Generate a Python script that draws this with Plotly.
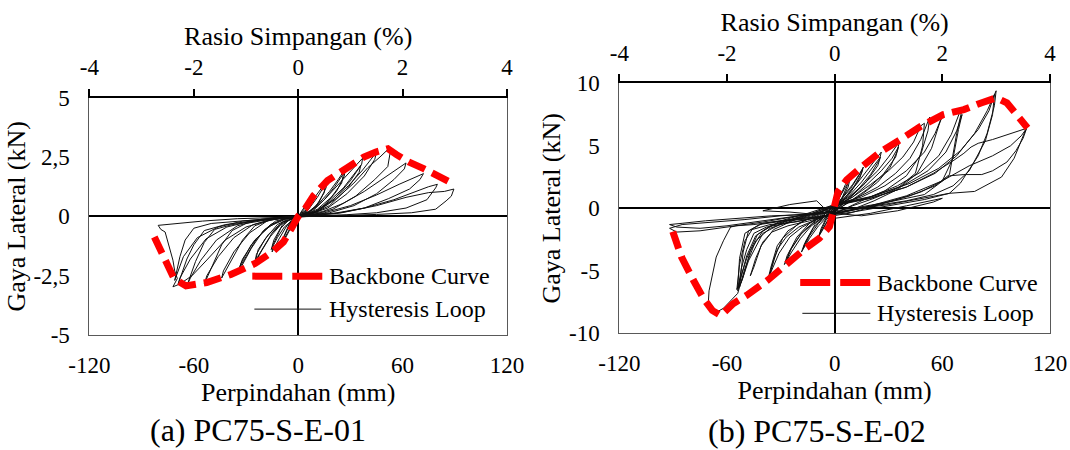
import plotly.graph_objects as go

# ---------------- data ----------------
# Specimen (a) PC75-S-E-01 : backbone curve (displacement mm, lateral force kN)
bb1_x = [-82.7, -74.4, -71.4, -64.5, -52.6, -38.7, -24.8, -14.9, -8.5, -4, 0, 4, 8.9, 16.9,
         26.8, 37.7, 44.6, 51.6, 56.5, 63.5, 72.4, 80.3, 87.3]
bb1_y = [-0.87, -2.2, -2.62, -2.93, -2.79, -2.45, -1.99, -1.5, -1.08, -0.52, 0, 0.32, 0.88, 1.51,
         2.0, 2.5, 2.71, 2.85, 2.6, 2.29, 2.0, 1.73, 1.44]

# Specimen (a) hysteresis loop (one continuous record, cycle by cycle)
hyst1_x = [
    0, 3, 6, 8, 7.5, 5, 2, -1, -3, -6, -8.5, -8, -5, -2,
    0, 4, 7, 8.5, 8, 5, 1, -2, -5, -8.5, -8, -5, -1,
    0, 5, 10, 14, 16.5, 16, 12, 7, 2, -3, -7, -11, -15, -14.5, -10, -5,
    0, 6, 11, 15.5, 15, 10, 4, -2, -8, -12, -15.5, -14, -9, -3,
    0, 6, 12, 18, 23, 27, 26.5, 22, 15, 8, 2, -4, -10, -16, -21, -25, -24, -19, -12, -5,
    0, 8, 15, 21, 26, 25, 19, 11, 4, -3, -9, -15, -20, -24.5, -23, -17, -9, -2,
    0, 8, 15, 22, 30, 37, 36.5, 30, 21, 12, 4, -5, -13, -20, -27, -34, -33, -27, -19, -10, -3,
    0, 10, 18, 26, 33, 36, 35, 28, 18, 8, 0, -8, -16, -24, -30, -34, -32, -25, -16, -6,
    0, 10, 20, 29, 37, 42, 45, 44, 38, 28, 17, 6, -6, -16, -25, -32, -38, -44, -43, -37, -28, -18, -8,
    0, 12, 22, 32, 40, 47, 52, 53, 51.5, 44, 33, 20, 8, -5, -18, -30, -38, -44, -49, -54, -52.5, -46, -37, -26, -14, -4,
    0, 14, 26, 38, 50, 58, 62, 61, 55, 45, 32, 18, 5, -10, -25, -38, -48, -54, -59, -64, -62, -56, -47, -35, -21, -8,
    0, 15, 30, 45, 58, 67, 72, 70, 64, 52, 38, 22, 8, -8, -25, -42, -54, -60, -64, -69, -68, -62, -53, -41, -27, -12,
    0, 20, 38, 55, 68, 75, 80, 79, 74, 62, 45, 28, 10, -10, -30, -50, -60, -65, -68, -71, -70, -66, -58, -46, -32, -16,
    0, 25, 45, 62, 75, 84, 89.5, 88, 85, 79, 65, 45, 25, 5, -15, -35, -55, -68, -76, -80.5, -79, -76.5, -72, -71,
    -69.5, -72, -68, -61, -52, -42, -30, -16, -4, 0,
]
hyst1_y = [
    0, 0.35, 0.7, 0.88, 0.7, 0.3, 0.05, -0.02, -0.3, -0.75, -1.08, -0.85, -0.35, -0.08,
    0, 0.35, 0.65, 0.8, 0.6, 0.2, 0.02, -0.15, -0.55, -1.0, -0.8, -0.3, -0.03,
    0.02, 0.3, 0.85, 1.25, 1.5, 1.2, 0.6, 0.2, 0.03, -0.08, -0.45, -0.95, -1.5, -1.2, -0.5, -0.12,
    0, 0.3, 0.8, 1.35, 1.0, 0.4, 0.08, -0.1, -0.45, -0.9, -1.4, -1.0, -0.35, -0.06,
    0.02, 0.2, 0.55, 1.05, 1.55, 2.0, 1.7, 1.05, 0.45, 0.12, 0.02, -0.1, -0.35, -0.85, -1.45, -1.98, -1.6, -0.95, -0.35, -0.08,
    0.01, 0.2, 0.7, 1.25, 1.8, 1.4, 0.8, 0.3, 0.05, -0.1, -0.25, -0.7, -1.3, -1.85, -1.4, -0.75, -0.25, -0.04,
    0.03, 0.25, 0.7, 1.25, 1.9, 2.45, 2.2, 1.5, 0.75, 0.25, 0.05, -0.05, -0.2, -0.6, -1.35, -2.3, -2.0, -1.2, -0.55, -0.15, -0.03,
    0, 0.2, 0.65, 1.2, 1.85, 2.15, 1.85, 1.15, 0.45, 0.1, -0.02, -0.12, -0.35, -0.95, -1.7, -2.2, -1.8, -1.0, -0.4, -0.08,
    0.02, 0.2, 0.7, 1.3, 1.95, 2.45, 2.7, 2.4, 1.7, 0.95, 0.35, 0.07, -0.05, -0.15, -0.4, -1.0, -1.8, -2.6, -2.3, -1.5, -0.7, -0.2, -0.05,
    0.03, 0.25, 0.75, 1.4, 2.05, 2.5, 2.85, 2.75, 2.1, 1.55, 0.85, 0.3, 0.06, -0.05, -0.15, -0.3, -0.6, -1.2, -2.0, -2.85, -2.5, -1.7, -0.9, -0.35, -0.1, -0.02,
    0.03, 0.2, 0.55, 1.05, 1.65, 2.05, 2.25, 2.0, 1.55, 0.95, 0.45, 0.15, 0.03, -0.08, -0.2, -0.35, -0.55, -1.1, -1.9, -2.93, -2.6, -1.85, -1.0, -0.4, -0.12, -0.03,
    0.03, 0.15, 0.45, 0.9, 1.35, 1.65, 1.8, 1.55, 1.15, 0.75, 0.35, 0.12, 0.03, -0.06, -0.18, -0.35, -0.6, -1.2, -1.8, -2.85, -2.6, -1.8, -0.95, -0.45, -0.2, -0.07,
    0.02, 0.12, 0.35, 0.7, 1.05, 1.25, 1.35, 1.2, 0.7, 0.35, 0.15, 0.07, 0.02, -0.07, -0.18, -0.3, -0.5, -1.0, -1.7, -2.7, -2.5, -1.7, -0.9, -0.45, -0.2, -0.08,
    0.02, 0.15, 0.45, 0.8, 1.0, 1.05, 1.15, 0.85, 0.65, 0.3, 0.15, 0.08, 0.04, 0.0, -0.05, -0.1, -0.2, -0.28, -0.33, -0.38, -0.55, -0.66, -1.85, -2.3,
    -2.62, -2.97, -2.85, -2.5, -1.8, -1.0, -0.45, -0.15, -0.03, 0.02,
]

# Specimen (b) PC75-S-E-02 : backbone curve
bb2_x = [-90.2, -85.4, -78.7, -73, -68.2, -63.4, -56.6, -49, -37.4, -26.9, -16.3, -8.6, -2.9, 1.9,
         6.7, 15.4, 25.9, 36.5, 48, 60.5, 72, 81.6, 90.2, 96, 101.8, 107.5]
bb2_y = [-1.87, -3.88, -5.76, -7.23, -8.17, -8.57, -7.63, -6.96, -5.76, -4.42, -3.21, -2.41, -1.47, 1.34,
         2.28, 3.35, 4.55, 5.49, 6.56, 7.5, 7.9, 8.43, 8.84, 8.43, 7.36, 6.43]

# Specimen (b) hysteresis loop
hyst2_x = [
    0, 3, 6, 8, 7, 4, 0, -3, -6, -9, -8, -5, -1,
    0, 4, 7, 8.5, 7.5, 4, 0, -4, -8.5, -7.5, -4,
    0, 5, 10, 14, 16, 15, 11, 6, 1, -4, -9, -14, -18.5, -17, -12, -6, -1,
    0, 4, 9, 13, 15.5, 14, 9, 3, -3, -9, -14, -17.5, -16, -11, -5,
    0, 6, 12, 18, 22, 26, 25, 20, 13, 6, 0, -6, -13, -19, -24, -28, -26.5, -21, -14, -6,
    0, 8, 15, 21, 25.5, 24, 17, 9, 2, -5, -12, -19, -24, -27, -25, -18, -10, -2,
    0, 8, 16, 24, 30, 36, 35, 31, 24, 15, 6, -2, -10, -18, -25, -31, -37, -35.5, -32, -26, -17, -8,
    0, 10, 18, 26, 32, 35.5, 34, 27, 18, 8, -2, -12, -20, -27, -32, -36, -34, -29, -20, -10,
    0, 10, 20, 30, 38, 44, 48, 50, 49, 45, 35, 22, 10, -2, -14, -26, -35, -40, -44, -47, -45, -41, -34, -22, -10,
    0, 12, 24, 34, 42, 48, 53, 52, 48, 40, 28, 15, 2, -12, -26, -38, -45, -49, -52, -54, -52, -49, -44, -36, -22, -8,
    0, 15, 28, 40, 50, 56, 60, 58, 54, 46, 35, 22, 8, -8, -22, -36, -46, -50, -53, -54.5, -53, -49, -43, -34, -20, -6,
    0, 18, 35, 48, 58, 65, 70, 71, 68, 64, 56, 42, 25, 8, -10, -28, -42, -50, -53, -54, -52, -48, -40, -28, -14,
    0, 20, 38, 52, 62, 68, 71, 69, 66, 60, 48, 32, 15, -5, -25, -40, -48, -51, -53, -51, -47, -40, -30, -15,
    0, 20, 40, 56, 68, 78, 85, 90, 89, 85, 80, 70, 64, 50, 30, 10, -10, -30, -45, -55, -58, -62, -66, -70, -70.5,
    -67, -62, -58, -54, -50, -44, -36, -24, -10,
    0, 22, 42, 58, 70, 80, 86, 89, 88, 84, 75, 66, 55, 40, 22, 5, -15, -35, -55, -72, -85, -92, -88, -75, -60,
    -45, -30, -15,
    0, 20, 40, 55, 66, 72, 76, 80, 88, 97, 103, 107, 105, 101, 96, 88, 82, 72, 64, 50, 30, 10, -10, -30, -50,
    -70, -85, -92, -88, -75, -60, -40, -20,
    0, 30, 55, 64, 78, 93, 100, 106.5, 104, 98, 88, 75, 60, 40, 20, 0,
    15, 35, 55, 60, 40, 20, 0, -10, -25, -40, -25, -10, 0,
]
hyst2_y = [
    0, 1.0, 1.9, 2.4, 1.8, 0.8, -0.2, -0.8, -1.6, -2.3, -1.9, -1.0, -0.3,
    0.2, 1.2, 2.0, 2.3, 1.7, 0.7, -0.3, -1.0, -2.1, -1.6, -0.6,
    0.1, 1.0, 1.9, 2.8, 3.3, 2.8, 1.8, 0.9, 0.0, -0.7, -1.4, -2.4, -3.5, -2.9, -1.6, -0.7, -0.1,
    0.1, 0.8, 1.6, 2.5, 3.1, 2.4, 1.3, 0.3, -0.5, -1.2, -2.2, -3.2, -2.6, -1.3, -0.4,
    0.1, 0.9, 1.9, 3.0, 3.8, 4.5, 3.9, 2.7, 1.5, 0.6, -0.2, -0.7, -1.4, -2.4, -3.5, -4.5, -3.8, -2.3, -1.2, -0.4,
    0.2, 1.0, 2.1, 3.2, 4.1, 3.4, 2.0, 0.9, 0.0, -0.6, -1.2, -2.1, -3.2, -4.2, -3.4, -1.9, -0.9, -0.1,
    0.2, 0.9, 1.9, 3.0, 4.1, 5.3, 4.6, 3.3, 2.1, 1.1, 0.3, -0.4, -0.9, -1.5, -2.3, -3.6, -5.6, -4.7, -3.0, -1.8, -1.0, -0.5,
    0.1, 0.9, 1.9, 3.0, 4.0, 4.9, 4.1, 2.7, 1.5, 0.5, -0.4, -1.0, -1.5, -2.3, -3.3, -5.2, -4.1, -2.4, -1.2, -0.5,
    0.2, 0.9, 1.9, 3.0, 4.1, 5.3, 6.6, 6.8, 5.0, 2.8, 1.6, 0.8, 0.2, -0.5, -1.0, -1.4, -1.9, -2.7, -4.0, -5.4, -4.7, -3.0, -1.7, -0.9, -0.4,
    0.2, 0.8, 1.7, 2.8, 4.0, 5.5, 7.3, 6.2, 4.3, 2.6, 1.4, 0.6, -0.3, -0.8, -1.2, -1.5, -2.0, -3.3, -4.8, -6.6, -5.4, -3.8, -2.2, -1.4, -0.8, -0.3,
    0.3, 0.9, 1.8, 3.0, 4.5, 6.0, 7.4, 6.6, 4.8, 2.8, 1.5, 0.6, -0.2, -0.7, -1.1, -1.3, -1.7, -2.6, -4.5, -6.5, -5.8, -4.0, -2.1, -1.3, -0.7, -0.2,
    0.2, 0.8, 1.8, 2.9, 4.2, 5.9, 7.8, 7.9, 6.0, 2.7, 1.8, 1.0, 0.3, -0.4, -0.8, -1.0, -1.3, -2.0, -4.0, -6.4, -5.9, -4.2, -2.0, -1.1, -0.5,
    0.3, 0.9, 1.8, 3.0, 4.5, 6.2, 7.5, 6.3, 4.0, 2.2, 1.3, 0.6, 0.0, -0.6, -0.9, -1.2, -1.8, -3.5, -6.3, -5.5, -3.4, -1.8, -1.0, -0.4,
    0.3, 0.8, 1.7, 2.8, 4.2, 6.0, 7.8, 9.4, 8.2, 6.0, 4.2, 2.0, 1.2, 0.7, 0.2, -0.3, -0.7, -1.0, -1.3, -1.4, -1.5, -2.6, -3.9, -6.6, -7.8,
    -8.4, -8.0, -7.4, -6.8, -4.8, -2.6, -1.6, -1.0, -0.5,
    0.3, 1.0, 2.0, 3.2, 4.6, 6.3, 7.8, 9.1, 7.5, 5.4, 3.0, 1.8, 1.1, 0.6, 0.2, -0.3, -0.5, -0.6, -0.8, -1.0, -1.2, -1.3, -1.5, -1.6, -1.4,
    -1.1, -0.8, -0.5,
    0.2, 0.8, 1.7, 2.8, 3.8, 4.4, 4.9, 5.2, 5.5, 5.9, 6.2, 6.4, 5.6, 4.6, 3.7, 3.0, 2.7, 2.7, 2.6, 1.1, 0.5, 0.0, -0.4, -0.6, -0.9,
    -1.1, -1.3, -1.6, -1.9, -1.8, -1.5, -1.1, -0.6,
    -0.3, 0.3, 1.0, 1.2, 1.35, 2.5, 4.0, 6.3, 5.8, 5.0, 4.2, 3.4, 2.2, 1.0, 0.2, -0.4,
    -0.6, -0.2, 0.5, 0.8, 0.2, -0.4, -0.8, 0.6, 0.3, -0.2, -0.3, -0.5, -0.2,
]

# Tick values and labels
disp_ticks = [-120, -60, 0, 60, 120]
disp_labels = ["-120", "-60", "0", "60", "120"]
drift_ticks = [-4, -2, 0, 2, 4]
drift_labels = ["-4", "-2", "0", "2", "4"]
force1_ticks = [-5, -2.5, 0, 2.5, 5]
force1_labels = ["-5", "-2,5", "0", "2,5", "5"]
force2_ticks = [-10, -5, 0, 5, 10]
force2_labels = ["-10", "-5", "0", "5", "10"]

captions = ["(a) PC75-S-E-01", "(b) PC75-S-E-02"]
legend_names = ["Backbone Curve", "Hysteresis Loop"]

# ---------------- figure ----------------
FONT = "Liberation Serif"
RED = "#ff0000"
BB_DASH = "18px,8px"

fig = go.Figure()
fig.add_trace(go.Scatter(x=hyst1_x, y=hyst1_y, mode="lines", name=legend_names[1],
                         line=dict(color="#111111", width=1), xaxis="x", yaxis="y",
                         showlegend=False, hoverinfo="skip"))
fig.add_trace(go.Scatter(x=bb1_x, y=bb1_y, mode="lines", name=legend_names[0],
                         line=dict(color=RED, width=7, dash=BB_DASH), xaxis="x", yaxis="y",
                         showlegend=False))
fig.add_trace(go.Scatter(x=hyst2_x, y=hyst2_y, mode="lines", name=legend_names[1],
                         line=dict(color="#111111", width=1), xaxis="x2", yaxis="y2",
                         showlegend=False, hoverinfo="skip"))
fig.add_trace(go.Scatter(x=bb2_x, y=bb2_y, mode="lines", name=legend_names[0],
                         line=dict(color=RED, width=7, dash=BB_DASH), xaxis="x2", yaxis="y2",
                         showlegend=False))
# empty carriers so the secondary (drift-ratio) axes are rendered
fig.add_trace(go.Scatter(x=[None], y=[None], xaxis="x3", yaxis="y", showlegend=False, hoverinfo="skip"))
fig.add_trace(go.Scatter(x=[None], y=[None], xaxis="x4", yaxis="y2", showlegend=False, hoverinfo="skip"))

tickfont = dict(family=FONT, size=23, color="black")
titlefont = dict(family=FONT, size=26, color="black")
FRAME = "#595959"


def bottom_axis(domain, anchor):
    return dict(domain=domain, anchor=anchor, range=[-120, 120], tickmode="array",
                tickvals=disp_ticks, ticktext=disp_labels, ticks="", showgrid=False,
                showline=True, linecolor=FRAME, linewidth=1, mirror=False,
                zeroline=True, zerolinecolor="black", zerolinewidth=2, automargin=False,
                tickfont=tickfont, ticklabelstandoff=9,
                title=dict(text="Perpindahan (mm)", font=titlefont, standoff=0))


def top_axis(overlay, anchor):
    return dict(overlaying=overlay, anchor=anchor, side="top", range=[-4, 4],
                tickmode="array", tickvals=drift_ticks, ticktext=drift_labels,
                ticks="outside", ticklen=7, tickwidth=2, tickcolor="black",
                showline=True, linecolor="black", linewidth=2, showgrid=False,
                zeroline=False, tickfont=tickfont, ticklabelstandoff=4, automargin=False,
                title=dict(text="Rasio Simpangan (%)", font=titlefont, standoff=2))


def left_axis(domain, anchor, rng, tv, tt):
    return dict(domain=domain, anchor=anchor, range=rng, tickmode="array",
                tickvals=tv, ticktext=tt, ticks="", showgrid=False,
                showline=True, linecolor=FRAME, linewidth=1, mirror=True,
                zeroline=True, zerolinecolor="black", zerolinewidth=2, automargin=False,
                tickfont=tickfont, ticklabelstandoff=14,
                title=dict(text="Gaya Lateral (kN)", font=titlefont, standoff=0))


fig.update_layout(
    width=1070, height=450,
    margin=dict(l=0, r=0, t=0, b=0),
    paper_bgcolor="white", plot_bgcolor="white",
    showlegend=False,
    font=dict(family=FONT, color="black"),
    xaxis=bottom_axis([0.0836, 0.4738], "y"),
    yaxis=left_axis([0.2556, 0.7829], "x", [-5, 5], force1_ticks, force1_labels),
    xaxis2=bottom_axis([0.5788, 0.9813], "y2"),
    yaxis2=left_axis([0.2593, 0.8149], "x2", [-10, 10], force2_ticks, force2_labels),
    xaxis3=top_axis("x", "y"),
    xaxis4=top_axis("x2", "y2"),
)

# legends drawn inside each panel (sample line + label)
legend_specs = [
    ("x domain", "y domain", 0.39, 0.56, 0.248, 0.109, 0.57),
    ("x2 domain", "y2 domain", 0.42, 0.588, 0.203, 0.08, 0.594),
]
for xr, yr, x0, x1, yb, yh, xt in legend_specs:
    fig.add_shape(type="line", xref=xr, yref=yr, x0=x0, x1=x1, y0=yb, y1=yb,
                  line=dict(color=RED, width=7, dash="30px,10px"))
    fig.add_shape(type="line", xref=xr, yref=yr, x0=x0 + 0.005, x1=x1 - 0.005, y0=yh, y1=yh,
                  line=dict(color="#111111", width=1))
    fig.add_annotation(xref=xr, yref=yr, x=xt, y=yb, text=legend_names[0], showarrow=False,
                       xanchor="left", yanchor="middle", font=dict(family=FONT, size=24, color="black"))
    fig.add_annotation(xref=xr, yref=yr, x=xt, y=yh, text=legend_names[1], showarrow=False,
                       xanchor="left", yanchor="middle", font=dict(family=FONT, size=24, color="black"))

# panel captions
fig.add_annotation(xref="paper", yref="paper", x=258 / 1070, y=1 - 430 / 450, text=captions[0],
                   showarrow=False, xanchor="center", yanchor="middle",
                   font=dict(family=FONT, size=32, color="black"))
fig.add_annotation(xref="paper", yref="paper", x=817 / 1070, y=1 - 431 / 450, text=captions[1],
                   showarrow=False, xanchor="center", yanchor="middle",
                   font=dict(family=FONT, size=32, color="black"))

fig.write_html("out.html")
